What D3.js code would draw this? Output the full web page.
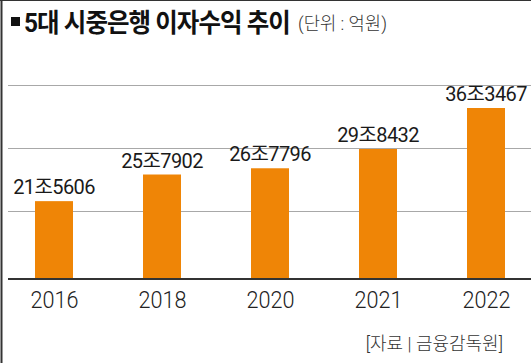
<!DOCTYPE html>
<html>
<head>
<meta charset="utf-8">
<script src="https://cdn.jsdelivr.net/npm/d3@7"></script>
<style>
  body { margin: 0; background: #fff; }
  svg { display: block; font-family: Roboto, "Noto Sans CJK KR", sans-serif; }
</style>
</head>
<body>
<svg id="chart"></svg>
<script>
// 5대 시중은행 이자수익 (조 단위)
const years = ["2016", "2018", "2020", "2021", "2022"];
const values = [21.5606, 25.7902, 26.7796, 29.8432, 36.3467];
const valueLabels = ["21조5606", "25조7902", "26조7796", "29조8432", "36조3467"];
const gridTicks = [20, 30, 40];

const width = 531, height = 363;
const baseY = 279;

const svg = d3.select("#chart")
  .attr("width", width)
  .attr("height", height);

// squeeze a text horizontally to a given width (the original uses a condensed face)
function fitWidth(sel, w, anchorX) {
  sel.each(function() {
    const t = d3.select(this);
    const natural = this.getComputedTextLength();
    const k = Math.min(1, w / natural);
    const ax = anchorX != null ? anchorX : +t.attr("x");
    t.attr("transform", `translate(${ax},0) scale(${k},1) translate(${-ax},0)`);
  });
}

// frame (top + left edge)
svg.append("line").attr("x1", 0).attr("x2", width).attr("y1", 0.5).attr("y2", 0.5)
  .attr("stroke", "#333").attr("stroke-width", 1);
svg.append("line").attr("x1", 1.5).attr("x2", 1.5).attr("y1", 0).attr("y2", height)
  .attr("stroke", "#333").attr("stroke-width", 2);

// scales - the baseline is not zero in the original graphic
const x = d3.scalePoint().domain(years).range([54, 486]);
const y = d3.scaleLinear().domain([9.2, 40]).range([baseY, 85]);
const barW = 38;

// grid lines
svg.append("g")
  .selectAll("line")
  .data(gridTicks)
  .enter()
  .append("line")
  .attr("x1", 8).attr("x2", width)
  .attr("y1", d => Math.round(y(d)) + 0.5)
  .attr("y2", d => Math.round(y(d)) + 0.5)
  .attr("stroke", "#a8a8a8");

// bars
svg.append("g")
  .selectAll("rect")
  .data(values)
  .enter()
  .append("rect")
  .attr("x", (d, i) => x(years[i]) - barW / 2)
  .attr("y", d => y(d))
  .attr("width", barW)
  .attr("height", d => baseY - y(d))
  .attr("fill", "#ef8506");

// baseline
svg.append("line").attr("x1", 8).attr("x2", width).attr("y1", baseY).attr("y2", baseY)
  .attr("stroke", "#333").attr("stroke-width", 2);

// value labels
svg.append("g")
  .selectAll("text")
  .data(values)
  .enter()
  .append("text")
  .attr("x", (d, i) => x(years[i]))
  .attr("y", d => y(d) - 7)
  .attr("text-anchor", "middle")
  .attr("font-size", 20)
  .attr("letter-spacing", -0.6)
  .attr("fill", "#1a1a1a")
  .text((d, i) => valueLabels[i])
  .call(fitWidth, 83);

// year labels
const xAxis = svg.append("g")
  .attr("transform", `translate(0,${baseY})`)
  .call(d3.axisBottom(x).tickSize(0).tickPadding(0));
xAxis.select(".domain").remove();
xAxis.selectAll("text")
  .attr("y", 29)
  .attr("dy", null)
  .attr("font-family", "Roboto, sans-serif")
  .attr("font-size", 24)
  .attr("font-weight", 300)
  .attr("fill", "#222")
  .call(fitWidth, 48, 0);

// title
svg.append("rect").attr("x", 11).attr("y", 17).attr("width", 9).attr("height", 9).attr("fill", "#111");
svg.append("text")
  .attr("x", 24).attr("y", 32)
  .attr("font-size", 26).attr("font-weight", 700).attr("fill", "#111")
  .attr("letter-spacing", -1)
  .text("5대 시중은행 이자수익 추이")
  .call(fitWidth, 266);
svg.append("text")
  .attr("x", 298).attr("y", 30)
  .attr("font-size", 18).attr("font-weight", 300).attr("fill", "#333")
  .text("(단위 : 억원)")
  .call(fitWidth, 89);

// source
svg.append("text")
  .attr("x", 503).attr("y", 350)
  .attr("text-anchor", "end")
  .attr("font-size", 18).attr("font-weight", 300).attr("fill", "#333")
  .text("[자료 | 금융감독원]")
  .call(fitWidth, 138);
</script>
</body>
</html>
